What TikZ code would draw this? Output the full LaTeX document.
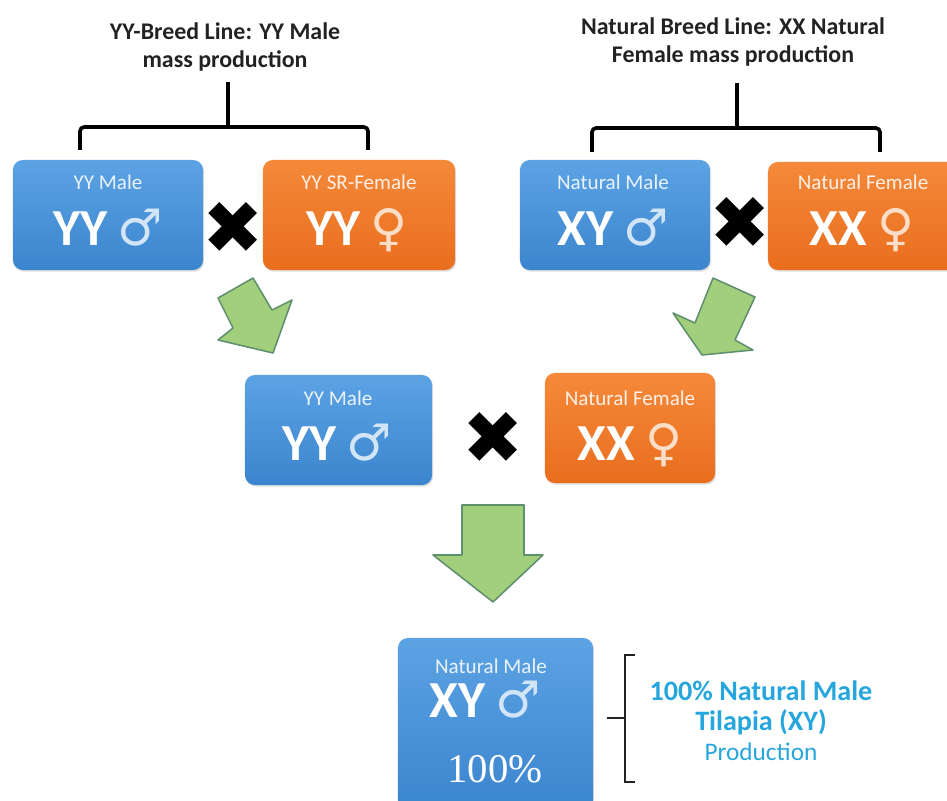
\documentclass[tikz,border=0pt]{standalone}
\usepackage{fontspec}
\setmainfont{Carlito}
\newfontfamily\signfont{DejaVu Sans}
\newfontfamily\numfont{Liberation Serif}
\usetikzlibrary{shadows}
\definecolor{maletop}{HTML}{5CA3E4}
\definecolor{malebot}{HTML}{3B85CE}
\definecolor{femtop}{HTML}{F5893A}
\definecolor{fembot}{HTML}{E96E1E}
\definecolor{leafgreen}{HTML}{A2CF7B}
\definecolor{leafedge}{HTML}{5E8F6E}
\definecolor{ink}{HTML}{222222}
\definecolor{tealtext}{HTML}{27A6DD}
\newcommand{\malesign}{{\signfont\fontsize{36}{36}\selectfont\mdseries\color{white!72!maletop}♂}}
\newcommand{\femsign}{{\signfont\fontsize{36}{36}\selectfont\mdseries\color{white!72!femtop}♀}}
\tikzset{x=0.025cm,y=-0.025cm,
  parentbox/.style={rectangle,rounded corners=7pt,draw=none,
    drop shadow={shadow xshift=.8pt,shadow yshift=-1.2pt,opacity=.25}},
  malebox/.style={parentbox,top color=maletop,bottom color=malebot},
  femalebox/.style={parentbox,top color=femtop,bottom color=fembot},
  tag/.style={anchor=base,text=white,text opacity=.88,font=\fontsize{15}{15}\selectfont},
  geno/.style={anchor=base,text=white,font=\fontsize{37}{37}\selectfont\bfseries},
  crossmark/.style={font=\signfont\fontsize{52}{52}\selectfont,inner sep=0pt},
  leafarrow/.style={fill=leafgreen,draw=leafedge,line width=1.1pt,line join=round},
  bracket/.style={draw=black,line width=2.6pt,rounded corners=3pt},
  thinbracket/.style={draw=ink,line width=1.3pt},
  title/.style={align=center,text=ink,font=\bfseries\fontsize{17}{20.6}\selectfont}}
\begin{document}
\begin{tikzpicture}
\path[use as bounding box] (0,0) rectangle (947,801);
% titles and brackets
\node[title] (yytitle) at (225,47) {YY-Breed Line: YY Male\\mass production};
\node[title] (nattitle) at (733,42) {Natural Breed Line: XX Natural\\Female mass production};
\draw[bracket] (80,150)--(80,127)--(368,127)--(368,150);\draw[bracket] (228,127)--(228,82);
\draw[bracket] (592,152)--(592,128)--(880,128)--(880,152);\draw[bracket] (737,128)--(737,83);
% parent boxes
\node[malebox,minimum width=4.75cm,minimum height=2.75cm] (yymale) at (108,215) {};
\node[femalebox,minimum width=4.8cm,minimum height=2.75cm] (srfemale) at (359,215) {};
\node[malebox,minimum width=4.75cm,minimum height=2.75cm] (natmale) at (615,215) {};
\node[femalebox,minimum width=4.75cm,minimum height=2.7cm] (natfemale) at (863,216) {};
\node[tag] at (108,190) {YY Male};\node[geno] at (108,245) {YY\hspace{7pt}\malesign};
\node[tag] at (359,190) {YY SR-Female};\node[geno] at (357,245) {YY\hspace{7pt}\femsign};
\node[tag] at (613,190) {Natural Male};\node[geno] at (613,245) {XY\hspace{7pt}\malesign};
\node[tag] at (863,190) {Natural Female};\node[geno] at (862,245) {XX\hspace{7pt}\femsign};
\node[crossmark] (cross1) at (233,228) {✖};\node[crossmark] (cross2) at (740,223) {✖};
% arrows
\draw[leafarrow] (218,298)--(253,278)--(272,310)--(292,300)--(273,353)--(218,340)--(233,328)--cycle;
\draw[leafarrow] (713,278)--(755,297)--(735,340)--(753,350)--(702,355)--(673,313)--(695,323)--cycle;
% second cross
\node[malebox,minimum width=4.675cm,minimum height=2.75cm] (midmale) at (338.5,430) {};
\node[femalebox,minimum width=4.25cm,minimum height=2.75cm] (midfemale) at (630,428) {};
\node[tag] at (338,405) {YY Male};\node[geno] at (337,460) {YY\hspace{7pt}\malesign};
\node[tag] at (630,405) {Natural Female};\node[geno] at (630,460) {XX\hspace{7pt}\femsign};
\node[crossmark] (cross3) at (493,438) {✖};
\draw[leafarrow] (462,505)--(524,505)--(524,555)--(543,555)--(493,602)--(433,555)--(462,555)--cycle;
% result
\node[malebox,minimum width=4.875cm,minimum height=4.3cm] (result) at (495.5,724) {};
\node[tag] at (491,673) {Natural Male};\node[geno] at (485,717) {XY\hspace{7pt}\malesign};
\node[anchor=base,text=white,font=\numfont\fontsize{29}{29}\selectfont] at (495,782) {100\%};
\draw[thinbracket] (635,655)--(625,655)--(625,782)--(635,782);\draw[thinbracket] (625,718)--(607,718);
\node[align=center,text=tealtext,font=\fontsize{20}{21.3}\selectfont] (outcome) at (761,721)
  {\bfseries 100\% Natural Male\\\bfseries Tilapia (XY)\\{\fontsize{18}{20}\selectfont Production}};
\end{tikzpicture}
\end{document}
